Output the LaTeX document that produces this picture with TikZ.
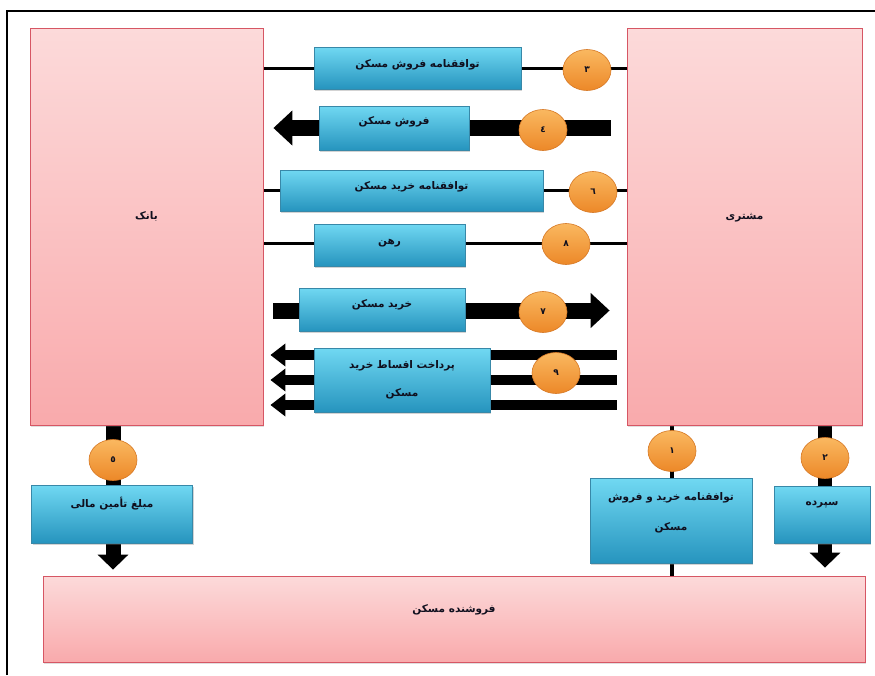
\documentclass[tikz,border=0pt]{standalone}
\usepackage{fontspec}
\newfontfamily\arabicfont[Script=Arabic]{DejaVu Sans}
\TeXXeTstate=1
\usetikzlibrary{arrows.meta,shadows,backgrounds,calc,shapes.geometric}

\definecolor{inkc}{RGB}{15,15,30}
\definecolor{pinktop}{RGB}{252,218,218}
\definecolor{pinkbot}{RGB}{249,170,172}
\definecolor{pinkedge}{RGB}{214,86,100}
\definecolor{bluetop}{RGB}{112,216,242}
\definecolor{bluebot}{RGB}{38,148,190}
\definecolor{blueedge}{RGB}{56,136,168}
\definecolor{orangetop}{RGB}{250,184,96}
\definecolor{orangebot}{RGB}{236,136,40}
\definecolor{orangeedge}{RGB}{214,120,36}

\newcommand{\lbl}{\arabicfont\bfseries\fontsize{10.5}{12.5}\selectfont}
\newcommand{\rl}[1]{\beginR #1\endR}

\begin{document}
\begin{tikzpicture}[x=1pt,y=-1pt,
  party/.style={rectangle, draw=pinkedge, line width=0.8pt,
    top color=pinktop, bottom color=pinkbot,
    drop shadow={opacity=0.25, shadow xshift=1.2pt, shadow yshift=-1.5pt},
    font=\lbl, text=inkc, inner sep=2pt},
  blk/.style={rectangle, draw=blueedge, line width=0.6pt,
    top color=bluetop, bottom color=bluebot,
    drop shadow={opacity=0.35, shadow xshift=1.2pt, shadow yshift=-1.5pt},
    font=\lbl, text=inkc, inner sep=2pt},
  one/.style={text height=8pt, text depth=#1},
  circ/.style={ellipse, minimum width=48pt, minimum height=41pt, inner sep=0pt,
    draw=orangeedge, line width=0.6pt, top color=orangetop, bottom color=orangebot,
    font=\arabicfont\bfseries\fontsize{9}{11}\selectfont, text=inkc},
  thinln/.style={line width=3pt, black},
  fatarrow/.style={line width=16pt, black, -{Triangle[width=34pt,length=19pt]}},
  midarrow/.style={line width=10pt, black, -{Triangle[width=22pt,length=15pt]}},
  downarrow/.style={line width=15pt, black, -{Triangle[width=30pt,length=15pt]}},
]
\useasboundingbox (0,0) rectangle (875,675);

% parties
\node[party, one=22pt, minimum width=233pt, minimum height=397pt] (bank) at (146.5,226.5) {\rl{بانک}};
\node[party, one=22pt, minimum width=235pt, minimum height=397pt] (cust) at (744.5,226.5) {\rl{مشتری}};
\node[party, one=22pt, minimum width=822pt, minimum height=86pt] (seller) at (454,619) {\rl{فروشنده مسکن}};

% flow labels between bank and customer
\node[blk, one=10pt, minimum width=207pt, minimum height=42pt] (b3) at (417.5,68) {\rl{توافقنامه فروش مسکن}};
\node[blk, one=16pt, minimum width=150pt, minimum height=44pt] (b4) at (394,128) {\rl{فروش مسکن}};
\node[blk, one=11pt, minimum width=263pt, minimum height=41pt] (b6) at (411.5,190.5) {\rl{توافقنامه خرید مسکن}};
\node[blk, one=10pt, minimum width=151pt, minimum height=42pt] (b8) at (389.5,245) {\rl{رهن}};
\node[blk, one=13pt, minimum width=166pt, minimum height=43pt] (b7) at (382,309.5) {\rl{خرید مسکن}};
\node[blk, align=center, minimum width=176pt, minimum height=64pt] (b9) at (402,380) {\rl{پرداخت اقساط خرید}\\[15.5pt]\rl{مسکن}};

% flow labels towards the seller
\node[blk, one=22pt, minimum width=161pt, minimum height=58pt] (b5) at (112,514) {\rl{مبلغ تأمین مالی}};
\node[blk, align=center, text depth=19pt, minimum width=162pt, minimum height=85pt] (b1) at (671,521) {\rl{توافقنامه خرید و فروش}\\[17.5pt]\rl{مسکن}};
\node[blk, one=26pt, minimum width=96pt, minimum height=57pt] (b2) at (822,514.5) {\rl{سپرده}};

% step numbers
\node[circ] (c3) at (587,70) {۳};
\node[circ] (c4) at (543,130) {٤};
\node[circ] (c6) at (593,192) {٦};
\node[circ] (c8) at (566,244) {۸};
\node[circ] (c7) at (543,312) {۷};
\node[circ] (c9) at (556,373) {۹};
\node[circ] (c5) at (113,460) {٥};
\node[circ] (c1) at (672,451) {۱};
\node[circ] (c2) at (825,458) {۲};

\begin{pgfonlayer}{background}
  % outer frame
  \draw[line width=1.5pt] (7,675) -- (7,11) -- (875,11);
  % agreements (plain links)
  \draw[thinln] (bank.east |- b3) -- (cust.west |- b3);
  \draw[thinln] (bank.east |- b6) -- (cust.west |- b6);
  \draw[thinln] (bank.east |- 0,243) -- (cust.west |- 0,243);
  % sale of the house to the bank
  \draw[fatarrow, shorten <=16pt, shorten >=10pt] (cust.west |- b4) -- (bank.east |- b4);
  % purchase by the customer
  \draw[fatarrow, shorten <=10pt, shorten >=17pt] (bank.east |- 0,310.5) -- (cust.west |- 0,310.5);
  % instalments
  \foreach \dy in {-25,0,25}
    \draw[midarrow, shorten <=10pt, shorten >=7pt] ($(cust.west |- b9)+(0,\dy)$) -- ($(bank.east |- b9)+(0,\dy)$);
  % payments to the seller
  \draw[downarrow, shorten >=6pt] (bank.south -| c5) -- (seller.north -| c5);
  \draw[line width=4pt] (cust.south -| c1) -- (seller.north -| c1);
  \draw[downarrow, line width=14pt, shorten >=8pt] (cust.south -| c2) -- (seller.north -| c2);
\end{pgfonlayer}
\end{tikzpicture}
\end{document}
